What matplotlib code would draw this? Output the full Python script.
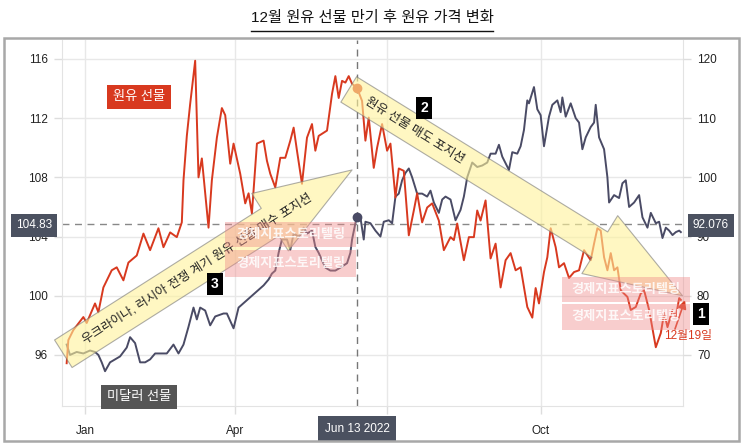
import numpy as np
import pandas as pd
import matplotlib
matplotlib.use('Agg')
import matplotlib.pyplot as plt
import matplotlib.dates as mdates
from matplotlib.patches import Rectangle
from matplotlib.lines import Line2D

plt.rcParams['font.family'] = ['Liberation Sans', 'Noto Sans CJK KR']
plt.rcParams['axes.unicode_minus'] = False

W, H = 743, 447

# 그림에서 읽은 값 (2022-01-01 기준 경과일)
base = pd.Timestamp('2022-01-01')
oil_day = [-11, -10, -7, -1, 1, 6, 8, 11, 16, 19, 23, 26, 31, 35, 39, 44, 47, 51, 55, 58,
           59, 61, 63, 66, 68, 70, 74, 76, 79, 82, 84, 87, 89, 93, 96, 98, 100, 103, 107, 109,
           111, 114, 117, 120, 123, 125, 127, 130, 133, 136, 138, 140, 145, 148, 150, 152, 154, 156, 158, 160,
           163, 166, 168, 170, 173, 175, 178, 181, 183, 186, 188, 191, 194, 197, 199, 202, 205, 208, 212, 215,
           219, 221, 223, 227, 230, 233, 235, 237, 240, 243, 246, 249, 252, 255, 258, 261, 265, 268, 270, 272,
           275, 277, 279, 282, 284, 287, 290, 293, 296, 299, 303, 305, 307, 309, 311, 313, 315, 317, 319, 321,
           325, 327, 330, 333, 335, 338, 342, 345, 347, 349, 352, 354, 356, 357]
oil_val = [68.6, 72.5, 74.2, 76.4, 75.4, 78.7, 77.2, 81.4, 84.3, 84.8, 82.6, 85.6, 86.8, 90.5, 87.7, 91.4, 88.2, 90.7, 89.9, 92.4,
           99.5, 107.0, 112.4, 119.7, 100.0, 103.2, 91.5, 99.5, 106.7, 111.7, 110.5, 102.3, 105.7, 100.6, 95.6, 97.3, 93.9, 105.7, 106.2, 102.8,
           100.6, 98.3, 103.3, 103.3, 106.2, 108.4, 104.5, 98.9, 106.7, 109.0, 104.5, 107.0, 107.9, 114.1, 117.1, 113.4, 116.3, 116.0, 117.1, 115.8,
           115.1, 112.9, 106.2, 110.1, 101.6, 105.0, 109.0, 104.5, 105.7, 96.6, 101.5, 101.1, 90.2, 94.4, 97.3, 92.4, 94.9, 95.6, 92.7, 87.7,
           89.9, 89.4, 92.2, 86.0, 89.9, 89.9, 94.4, 92.7, 96.1, 86.3, 88.8, 81.4, 86.0, 87.2, 84.3, 84.8, 78.1, 76.3, 81.3, 78.7,
           84.0, 86.5, 91.4, 88.2, 84.8, 85.5, 83.0, 84.0, 84.3, 87.7, 86.0, 88.8, 91.4, 91.0, 86.5, 84.3, 87.2, 84.3, 84.8, 80.9,
           79.8, 77.6, 78.1, 80.4, 80.9, 77.6, 71.3, 73.7, 77.1, 74.7, 77.6, 76.4, 79.6, 79.3]

usd_day = [-11, -9, -5, -1, 3, 6, 8, 10, 12, 15, 18, 21, 25, 27, 30, 33, 36, 39, 42, 45,
           49, 53, 56, 59, 62, 65, 67, 69, 72, 75, 78, 83, 85, 89, 92, 96, 99, 102, 104, 107,
           110, 112, 114, 116, 118, 121, 123, 125, 128, 131, 133, 136, 138, 140, 142, 144, 147, 150, 153, 157,
           159, 160, 162, 163, 165, 167, 168, 171, 174, 177, 179, 182, 184, 186, 188, 190, 192, 194, 196, 199,
           202, 205, 207, 209, 212, 214, 216, 219, 222, 225, 227, 229, 232, 235, 238, 241, 243, 246, 248, 250,
           254, 256, 259, 261, 263, 265, 266, 269, 271, 273, 275, 278, 280, 283, 285, 286, 288, 291, 294, 296,
           298, 300, 303, 305, 306, 308, 311, 313, 314, 317, 320, 322, 324, 326, 329, 332, 334, 337, 339, 342,
           344, 346, 348, 350, 352, 354, 356, 357]
usd_val = [96.7, 96.0, 96.2, 96.1, 96.3, 96.2, 96.0, 95.5, 94.9, 95.5, 95.7, 95.9, 96.5, 97.2, 96.8, 95.5, 95.5, 95.7, 96.1, 96.1,
           96.1, 96.7, 96.1, 96.7, 97.9, 99.2, 98.4, 99.2, 99.0, 98.0, 98.6, 98.8, 98.8, 97.8, 99.2, 99.6, 99.9, 100.2, 100.4, 100.7,
           101.1, 101.5, 101.7, 102.9, 103.8, 103.8, 103.1, 104.2, 104.0, 104.6, 104.2, 104.4, 103.3, 102.9, 102.4, 101.9, 101.7, 101.7, 101.9, 102.2,
           102.9, 103.8, 104.9, 105.3, 105.3, 103.8, 105.0, 104.9, 104.4, 104.0, 105.0, 105.1, 104.9, 106.7, 106.9, 107.8, 108.3, 108.6, 108.0, 106.9,
           106.9, 106.7, 107.1, 106.3, 105.6, 106.5, 106.7, 106.5, 105.1, 105.8, 106.7, 108.0, 109.0, 108.7, 108.8, 109.0, 109.6, 109.6, 110.2, 109.4,
           108.5, 109.7, 109.6, 110.1, 111.2, 113.2, 113.0, 114.1, 112.6, 112.2, 110.1, 112.1, 112.9, 113.2, 112.4, 113.4, 112.1, 113.0, 112.0, 111.7,
           109.9, 110.7, 111.4, 111.7, 112.9, 110.7, 109.9, 108.0, 106.3, 106.8, 106.6, 107.6, 107.8, 106.0, 106.3, 106.8, 105.3, 104.6, 105.6, 104.9,
           105.0, 103.9, 104.6, 104.4, 104.1, 104.3, 104.4, 104.3]

left_ticks = [96, 100, 104, 108, 112, 116]
right_ticks = [70, 80, 90, 100, 110, 120]
month_ticks = ['2022-01-01', '2022-04-01', '2022-07-01', '2022-10-01']
month_labels = ['Jan', 'Apr', '', 'Oct']

cross_date = pd.Timestamp('2022-06-13')
cross_left = 104.83
cross_right = 92.076

red = '#d8391f'
navy = '#4a4b65'
box_gray = '#4b5160'

oil_dates = base + pd.to_timedelta(oil_day, unit='D')
usd_dates = base + pd.to_timedelta(usd_day, unit='D')


def fx(px):
    return px / W


def fy(py):
    return 1 - py / H


fig = plt.figure(figsize=(W / 100, H / 100), dpi=100)
ax = fig.add_axes([fx(62), fy(406), fx(683) - fx(62), fy(40) - fy(406)])
ax2 = ax.twinx()

# 미달러 선물 (왼쪽 축)
ax.plot(usd_dates, usd_val, color=navy, lw=1.4, zorder=3)
# 원유 선물 (오른쪽 축)
ax2.plot(oil_dates, oil_val, color=red, lw=1.4, zorder=3)

# 6/13 크로스헤어
ax.axvline(cross_date, color='#777777', lw=1.0, ls=(0, (5, 4)), zorder=2)
ax.axhline(cross_left, color='#888888', lw=1.0, ls=(0, (5, 4)), zorder=2)
i_usd = usd_day.index((cross_date - base).days)
i_oil = oil_day.index((cross_date - base).days)
ax.plot([cross_date], [usd_val[i_usd]], 'o', color=navy, ms=6, zorder=4)
ax2.plot([cross_date], [oil_val[i_oil]], 'o', color=red, ms=6, zorder=2)

ax.set_xlim(pd.Timestamp('2021-12-18 05:00'), pd.Timestamp('2022-12-25 07:00'))
ax.set_ylim(92.55, 117.28)
ax2.set_ylim(61.375, 123.2)

ax.set_yticks(left_ticks)
ax2.set_yticks(right_ticks)
ax.set_xticks(pd.to_datetime(month_ticks))
ax.set_xticklabels(month_labels)

ax.grid(True, color='#e8e8e8', lw=1.0)
ax.set_axisbelow(True)
ax.tick_params(axis='both', labelsize=8.5, colors='#dddddd', labelcolor='#222222', length=6, width=1)
ax.tick_params(axis='x', pad=8)
ax.tick_params(axis='y', pad=4)
ax2.tick_params(axis='y', labelsize=8.5, colors='#dddddd', labelcolor='#222222', length=6, width=1, pad=4)
for s in ['left', 'right', 'bottom']:
    ax.spines[s].set_color('#e3e3e3')
ax.spines['top'].set_visible(False)
for s in ax2.spines.values():
    s.set_visible(False)

# 화살표 (반투명 노란색)
arrow_kw = dict(facecolor='#fff39a', edgecolor='#777777', lw=0.8, alpha=0.6,
                shrinkA=0, shrinkB=0, mutation_scale=1)
d2n = mdates.date2num
ax2.annotate('', xy=(d2n(pd.Timestamp('2022-06-10')), 101.25),
             xytext=(d2n(pd.Timestamp('2021-12-19')), 70.2),
             arrowprops=dict(arrowstyle='simple,head_length=70,head_width=49,tail_width=23.5', **arrow_kw),
             annotation_clip=False, zorder=6)
ax2.annotate('', xy=(d2n(pd.Timestamp('2022-12-25')), 80.0),
             xytext=(d2n(pd.Timestamp('2022-06-08')), 114.85),
             arrowprops=dict(arrowstyle='simple,head_length=70,head_width=49,tail_width=21.5', **arrow_kw),
             annotation_clip=False, zorder=6)

fig.text(fx(197), fy(269), '우크라이나, 러시아 전쟁 계기 원유 선물 매수 포지션', rotation=32.5,
         rotation_mode='anchor', ha='center', va='center', fontsize=9, color='#222222')
fig.text(fx(415), fy(131), '원유 선물 매도 포지션', rotation=-31.8,
         rotation_mode='anchor', ha='center', va='center', fontsize=9, color='#222222')

# 워터마크
for (x0, y0, x1, y1) in [(225, 222, 356, 247), (225, 250, 356, 277),
                         (562, 277, 690, 302), (562, 304, 690, 330)]:
    fig.patches.append(Rectangle((fx(x0), fy(y1)), fx(x1) - fx(x0), fy(y0) - fy(y1),
                                 transform=fig.transFigure, facecolor='#f08a8a', alpha=0.42,
                                 edgecolor='none', zorder=7))
    fig.text(fx((x0 + x1) / 2), fy((y0 + y1) / 2), '경제지표스토리텔링', ha='center', va='center',
             fontsize=9.5, fontweight='bold', color='white', alpha=0.85, zorder=8)

# 범례 라벨
fig.text(fx(139), fy(97), '원유 선물', ha='center', va='center', fontsize=9.5, color='white',
         bbox=dict(boxstyle='square,pad=0.45', fc=red, ec='none'))
fig.text(fx(139), fy(397), '미달러 선물', ha='center', va='center', fontsize=9.5, color='white',
         bbox=dict(boxstyle='square,pad=0.45', fc='#555555', ec='none'))

# 번호 박스
for num, (px, py) in zip(['1', '2', '3'], [(701, 314), (424, 108), (215, 284)]):
    fig.text(fx(px), fy(py), num, ha='center', va='center', fontsize=10, fontweight='bold', color='white',
             bbox=dict(boxstyle='square,pad=0.3', fc='black', ec='none'))

# 12월19일
fig.text(fx(688), fy(336), '12월19일', ha='center', va='center', fontsize=8.5, color=red)
ax2.annotate('', xy=(fx(685), fy(300)), xycoords='figure fraction',
             xytext=(fx(675), fy(329)), textcoords='figure fraction',
             arrowprops=dict(arrowstyle='-|>,head_length=0.5,head_width=0.25', color=red, lw=1.2,
                             shrinkA=0, shrinkB=0), annotation_clip=False)

# 크로스헤어 라벨
fig.text(fx(34), fy(225.5), f'{cross_left:.2f}', ha='center', va='center', fontsize=8.5, color='white',
         bbox=dict(boxstyle='square,pad=0.45', fc=box_gray, ec='none'))
fig.text(fx(711), fy(225.5), f'{cross_right:.3f}', ha='center', va='center', fontsize=8.5, color='white',
         bbox=dict(boxstyle='square,pad=0.45', fc=box_gray, ec='none'))
fig.text(fx(357), fy(428.5), cross_date.strftime('%b %d %Y'), ha='center', va='center', fontsize=8.5,
         color='white', bbox=dict(boxstyle='square,pad=0.55', fc=box_gray, ec='none'))

# 제목 + 밑줄
title = fig.text(fx(372), fy(18), '12월 원유 선물 만기 후 원유 가격 변화', ha='center', va='center',
                 fontsize=11, fontweight='medium', color='#111111')
fig.canvas.draw()
bb = title.get_window_extent().transformed(fig.transFigure.inverted())
fig.add_artist(Line2D([bb.x0, bb.x1], [fy(31), fy(31)], transform=fig.transFigure, color='#111111', lw=1.0))

# 바깥 테두리
fig.patches.append(Rectangle((fx(4), fy(441)), fx(739) - fx(4), fy(38) - fy(441), transform=fig.transFigure,
                             facecolor='none', edgecolor='#a8a8a8', lw=1.8, zorder=10))

fig.savefig('out.png', dpi=100)
